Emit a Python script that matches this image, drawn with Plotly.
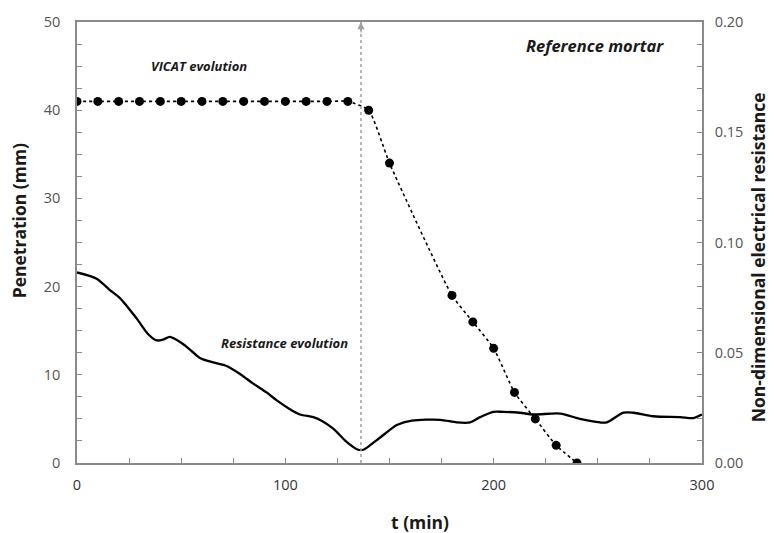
import plotly.graph_objects as go

# VICAT penetration data (mm) vs time (min)
vicat_t = [0, 10, 20, 30, 40, 50, 60, 70, 80, 90, 100, 110, 120, 130,
           140, 150, 180, 190, 200, 210, 220, 230, 240]
vicat_pen = [41, 41, 41, 41, 41, 41, 41, 41, 41, 41, 41, 41, 41, 41,
             40, 34, 19, 16, 13, 8, 5, 2, 0]

# Non-dimensional electrical resistance vs time (min)
res_t = [0, 9.4, 15.8, 20.6, 28.6, 34.2, 38.2, 41.4, 44.6, 50.2, 55, 59, 65.4,
         71.8, 78.2, 84.6, 91, 95.9, 102.2, 107, 113.4, 117.4, 123, 129.4, 135,
         137.5, 143.9, 151, 153.5, 160.7, 174.3, 182.3, 188.7, 193.5, 199.9,
         204.6, 212.6, 219, 232, 241.4, 251, 254.3, 262.3, 267.1, 276.7, 289.5,
         295.9, 300]
res_val = [0.0864, 0.0836, 0.0784, 0.0748, 0.0656, 0.0584, 0.0556, 0.0560,
           0.0572, 0.0544, 0.0508, 0.0476, 0.0456, 0.0440, 0.0404, 0.0360,
           0.0320, 0.0284, 0.0244, 0.0220, 0.0208, 0.0192, 0.0156, 0.0096,
           0.0060, 0.0060, 0.0104, 0.0156, 0.0172, 0.0192, 0.0196, 0.0184,
           0.0184, 0.0208, 0.0232, 0.0232, 0.0228, 0.0220, 0.0224, 0.0200,
           0.0184, 0.0184, 0.0228, 0.0228, 0.0212, 0.0208, 0.0204, 0.0220]

set_time = 136.3

x_ticks = [0, 100, 200, 300]
y_ticks = [0, 10, 20, 30, 40, 50]
y2_ticks = [0, 0.05, 0.10, 0.15, 0.20]

axis_gray = "#8a8a8a"
font_family = "Open Sans"

fig = go.Figure()

fig.add_trace(go.Scatter(
    x=res_t, y=res_val, mode="lines", yaxis="y2",
    line=dict(color="black", width=2.3, shape="spline", smoothing=0.8),
    showlegend=False))

fig.add_trace(go.Scatter(
    x=vicat_t, y=vicat_pen, mode="lines+markers",
    line=dict(color="black", width=1.6, dash="dot", shape="spline", smoothing=0.5),
    marker=dict(color="black", size=9),
    showlegend=False))

fig.add_shape(type="line", x0=set_time, x1=set_time, y0=0, y1=50,
              xref="x", yref="y",
              line=dict(color="#a0a0a0", width=1.5, dash="dot"))
fig.add_annotation(x=set_time, y=50, xref="x", yref="y", ax=0, ay=12,
                   showarrow=True, arrowhead=2, arrowsize=1.2, arrowwidth=1.2,
                   arrowcolor="#a0a0a0", text="")

txt = dict(family=font_family, color="#1a1a1a")
fig.add_annotation(x=58.6, y=45.0, xref="x", yref="y", text="<b><i>VICAT evolution</i></b>",
                   showarrow=False, font=dict(size=13, **txt))
fig.add_annotation(x=248.7, y=47.3, xref="x", yref="y", text="<b><i>Reference mortar</i></b>",
                   showarrow=False, font=dict(size=16.5, **txt))
fig.add_annotation(x=131, y=13.6, xref="x", yref="y", text="<b><i>Resistance evolution</i></b>",
                   showarrow=False, xanchor="right", font=dict(size=13, **txt))

# axis titles
fig.add_annotation(x=-0.0928, y=0.548, xref="paper", yref="paper",
                   xanchor="center", yanchor="middle",
                   text="<b>Penetration (mm)</b>", textangle=-90, showarrow=False,
                   font=dict(size=17.5, **txt))
fig.add_annotation(x=1.090, y=0.467, xref="paper", yref="paper",
                   xanchor="center", yanchor="middle",
                   text="<b>Non-dimensional electrical resistance</b>", textangle=-90,
                   showarrow=False, font=dict(size=17.5, **txt))
fig.add_annotation(x=0.549, y=-0.133, xref="paper", yref="paper",
                   xanchor="center", yanchor="middle",
                   text="<b>t (min)</b>", showarrow=False, font=dict(size=17.5, **txt))

xtickfont = dict(family=font_family, size=14.5, color="#333333")
ytickfont = dict(family=font_family, size=14.5, color="#555555")

fig.update_layout(
    width=775, height=533,
    margin=dict(l=77, r=73, t=18, b=70),
    paper_bgcolor="white", plot_bgcolor="white",
    xaxis=dict(range=[0, 300], tickvals=x_ticks, ticks="inside", ticklen=5,
               tickcolor=axis_gray, showline=True, linecolor=axis_gray, linewidth=1.5,
               mirror=True, showgrid=False, zeroline=False, tickfont=xtickfont,
               ticklabelstandoff=8,
               minor=dict(dtick=25, ticks="inside", ticklen=5, tickcolor=axis_gray)),
    yaxis=dict(range=[0, 50], tickvals=y_ticks, ticks="inside", ticklen=5,
               tickcolor=axis_gray, showline=True, linecolor=axis_gray, linewidth=1.5,
               showgrid=False, zeroline=False, tickfont=ytickfont,
               ticklabelstandoff=12,
               minor=dict(dtick=2.5, ticks="inside", ticklen=5, tickcolor=axis_gray)),
    yaxis2=dict(range=[0, 0.2], tickvals=y2_ticks, tickformat=".2f", overlaying="y",
                side="right", ticks="inside", ticklen=5, tickcolor=axis_gray,
                showline=True, linecolor=axis_gray, linewidth=1.5,
                showgrid=False, zeroline=False, tickfont=ytickfont,
                ticklabelstandoff=8,
                minor=dict(dtick=0.01, ticks="inside", ticklen=5, tickcolor=axis_gray)),
)

fig.write_html("out.html")
